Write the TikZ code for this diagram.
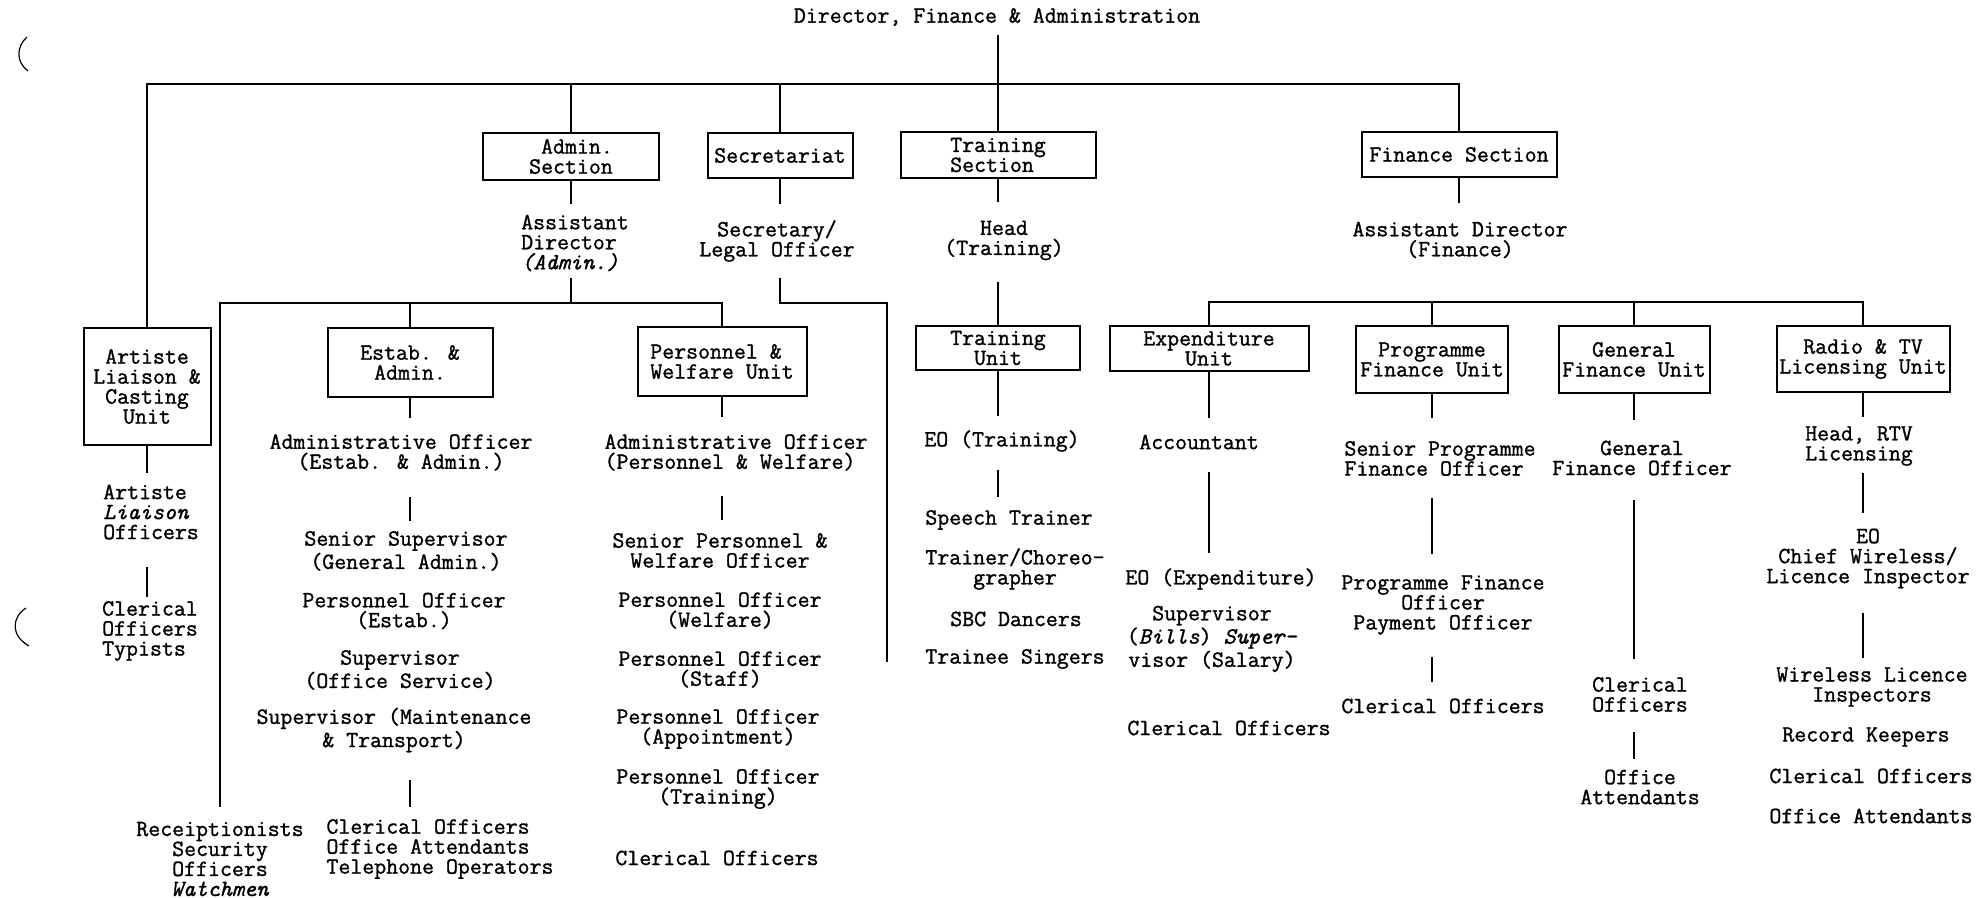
\documentclass[tikz,border=0pt]{standalone}
\usepackage{fontspec}
\newfontfamily\tw[FakeBold=1.2]{Latin Modern Mono}
\usetikzlibrary{calc}
\tikzset{
  every node/.style={font=\tw\fontsize{11.6pt}{10pt}\selectfont},
  unitbox/.style={draw, line width=1pt, inner sep=0pt, outer sep=0pt, align=center},
  lbl/.style={inner sep=0pt, outer sep=0pt, align=center},
  lbll/.style={inner sep=0pt, outer sep=0pt, align=left},
  conn/.style={line width=1pt},
}
\begin{document}
\begin{tikzpicture}[x=0.5pt,y=-0.5pt]
\fill[white] (0,0) rectangle (1983,898);
\useasboundingbox (0,0) rectangle (1983,898);

% scan marks
\draw[line width=0.6pt] (27,37) .. controls (16,47) and (16,62) .. (28,71);
\draw[line width=0.6pt] (26,608) .. controls (11,618) and (11,636) .. (29,646);

% ---------- top level ----------
\node[lbl] (title) at (997,17) {Director, Finance \& Administration};
\coordinate (j1) at (999,84);

\node[unitbox, align=right, minimum width=88pt, minimum height=23.5pt] (adminsec) at (571,156.5) {Admin.\\Section};
\node[unitbox, minimum width=72.5pt, minimum height=22.5pt] (secsec) at (780,155.5) {Secretariat};
\node[unitbox, align=left, minimum width=97.5pt, minimum height=23pt] (trsec) at (998,155) {Training\\Section};
\node[unitbox, minimum width=97.5pt, minimum height=22.5pt] (finsec) at (1459,154.5) {Finance Section};
\node[unitbox, minimum width=63.5pt, minimum height=58.5pt] (artbox) at (147,386.5) {Artiste\\Liaison \&\\Casting\\Unit};

% ---------- second level heads ----------
\node[lbll] (adadmin) at (575,243) {Assistant\\Director\\\textit{(Admin.)}};
\node[lbl] (secr) at (777,241) {Secretary/\\Legal Officer};
\node[lbl] (headtr) at (1004,240.5) {Head\\(Training)};
\node[lbl] (adfin) at (1460,240) {Assistant Director\\(Finance)};

\coordinate (j2) at (571,303);
\coordinate (secend) at (887,662);
\coordinate (fbar) at (1459,302);

% ---------- unit boxes ----------
\node[unitbox, minimum width=82.5pt, minimum height=34.5pt] (estab) at (410,362.5) {Estab. \&\\Admin.};
\node[unitbox, align=left, minimum width=84.5pt, minimum height=34.5pt] (pers) at (722,361.5) {Personnel \&\\Welfare Unit};
\node[unitbox, minimum width=82pt, minimum height=22pt] (trunit) at (998,348) {Training\\Unit};
\node[unitbox, minimum width=99.5pt, minimum height=22.5pt] (expunit) at (1209,348.5) {Expenditure\\Unit};
\node[unitbox, minimum width=76pt, minimum height=33.5pt] (prog) at (1432,359.5) {Programme\\Finance Unit};
\node[unitbox, minimum width=75.5pt, minimum height=33.5pt] (genu) at (1634,359.5) {General\\Finance Unit};
\node[unitbox, minimum width=86.5pt, minimum height=33pt] (radio) at (1863,359) {Radio \& TV\\Licensing Unit};

% ---------- Artiste column ----------
\node[lbll] (alo) at (151,512) {Artiste\\\textit{Liaison}\\Officers};
\node[lbll] (artcl) at (150,631) {Clerical\\Officers\\Typists};

% ---------- Estab column ----------
\node[lbl] (ao1) at (401,452.5) {Administrative Officer\\(Estab. \& Admin.)};
\node[lbl] (ss) at (406,551) {Senior Supervisor\\(General Admin.)};
\node[lbl] (poe) at (404,611) {Personnel Officer\\(Estab.)};
\node[lbl] (supos) at (400,670) {Supervisor\\(Office Service)};
\node[lbl] (supmt) at (394,730) {Supervisor (Maintenance\\\& Transport)};
\node[lbl] (recep) at (220,859) {Receiptionists\\Security\\Officers\\\textit{Watchmen}};
\node[lbll] (clo) at (440,849) {Clerical Officers\\Office Attendants\\Telephone Operators};

% ---------- Personnel column ----------
\node[lbll] (ao2) at (736,452.5) {Administrative Officer\\(Personnel \& Welfare)};
\node[lbl] (spw) at (720,550.5) {Senior Personnel \&\\Welfare Officer};
\node[lbl] (pow) at (720,610.5) {Personnel Officer\\(Welfare)};
\node[lbl] (pos) at (720,669.5) {Personnel Officer\\(Staff)};
\node[lbl] (poa) at (718,729) {Personnel Officer\\(Appointment)};
\node[lbl] (pot) at (718,789) {Personnel Officer\\(Training)};
\node[lbl] (pwcl) at (717,858) {Clerical Officers};

% ---------- Training column ----------
\node[lbl] (eotr) at (1002,441) {EO (Training)};
\node[lbl] (speech) at (1009,520) {Speech Trainer};
\node[lbl] (choreo) at (1015,569) {Trainer/Choreo-\\grapher};
\node[lbl] (sbc) at (1016,619) {SBC Dancers};
\node[lbl] (trainee) at (1015,659) {Trainee Singers};

% ---------- Expenditure column ----------
\node[lbl] (acct) at (1199,442) {Accountant};
\node[lbl] (eoexp) at (1221,579) {EO (Expenditure)};
\node[lbl] (supbills) at (1212,639) {Supervisor\\(\textit{Bills}) \textit{Super-}\\visor (Salary)};
\node[lbl] (expcl) at (1229,728) {Clerical Officers};

% ---------- Programme column ----------
\node[lbll] (spfo) at (1440,458.5) {Senior Programme\\Finance Officer};
\node[lbl] (pfo) at (1443,605) {Programme Finance\\Officer\\Payment Officer};
\node[lbl] (progcl) at (1443,706) {Clerical Officers};

% ---------- General column ----------
\node[lbl] (gfo) at (1642,458) {General\\Finance Officer};
\node[lbll] (gencl) at (1640,694.5) {Clerical\\Officers};
\node[lbl] (genoa) at (1640,787) {Office\\Attendants};

% ---------- Radio column ----------
\node[lbl] (headrtv) at (1859,446) {Head, RTV\\Licensing};
\node[lbl] (eochief) at (1868,558.5) {EO\\Chief Wireless/\\Licence Inspector};
\node[lbl] (wli) at (1872,687) {Wireless Licence\\Inspectors};
\node[lbl] (rk) at (1866,737) {Record Keepers};
\node[lbl] (rtvcl) at (1871,776) {Clerical Officers};
\node[lbl] (rtvoa) at (1871,816) {Office Attendants};

% ================= connectors =================
% top bar
\draw[conn] (artbox.north) -- (artbox.north |- j1) -- (finsec.north |- j1) -- (finsec.north);
\draw[conn] (adminsec.north) -- (adminsec.north |- j1);
\draw[conn] (secsec.north) -- (secsec.north |- j1);
\draw[conn, shorten <=4.5pt] (title.south -| trsec.north) -- (trsec.north);

% admin section
\draw[conn] (adminsec.south) -- ++(0,24);
\draw[conn] (adadmin.center -| adminsec.south) ++(0,35) -- (j2);
\draw[conn] (recep.center) ++(0,-52) -- (recep.center |- j2) -- (pers.north |- j2) -- (pers.north);
\draw[conn] (estab.north) -- (estab.north |- j2);

% secretariat
\draw[conn] (secsec.south) -- ++(0,26);
\draw[conn] (secr.center -| secsec.south) ++(0,37) -- (secsec.south |- j2) -- (secend |- j2) -- (secend);

% training
\draw[conn] (trsec.south) -- ++(0,24);
\draw[conn] (headtr.center -| trsec.south) ++(0,42) -- (trunit.north);
\draw[conn] (trunit.south) -- ++(0,46);
\draw[conn] (eotr.center -| trunit.south) ++(0,29) -- ++(0,27);

% finance
\draw[conn] (finsec.south) -- ++(0,26);
\draw[conn] (expunit.north) -- (expunit.north |- fbar) -- (radio.north |- fbar) -- (radio.north);
\draw[conn] (prog.north) -- (prog.north |- fbar);
\draw[conn] (genu.north) -- (genu.north |- fbar);

% artiste
\draw[conn] (artbox.south) -- ++(0,28);
\draw[conn] (alo.center -| artbox.south) ++(0,55) -- ++(0,30);

% estab
\draw[conn] (estab.south) -- ++(0,21);
\draw[conn] (ao1.center -| estab.south) ++(0,44.5) -- ++(0,24);
\draw[conn] (supmt.center -| estab.south) ++(0,50) -- ++(0,27);

% personnel
\draw[conn] (pers.south) -- ++(0,21);
\draw[conn] (ao2.center -| pers.south) ++(0,43.5) -- ++(0,24);

% expenditure
\draw[conn] (expunit.south) -- ++(0,47);
\draw[conn] (acct.center -| expunit.south) ++(0,30) -- ++(0,81);

% programme
\draw[conn] (prog.south) -- ++(0,25);
\draw[conn] (spfo.center -| prog.south) ++(0,40) -- ++(0,56);
\draw[conn] (pfo.center -| prog.south) ++(0,52) -- ++(0,25);

% general
\draw[conn] (genu.south) -- ++(0,27);
\draw[conn] (gfo.center -| genu.south) ++(0,42) -- ++(0,159);
\draw[conn] (gencl.center -| genu.south) ++(0,37.5) -- ++(0,27);

% radio
\draw[conn] (radio.south) -- ++(0,25);
\draw[conn] (headrtv.center -| radio.south) ++(0,27) -- ++(0,40);
\draw[conn] (eochief.center -| radio.south) ++(0,55) -- ++(0,45);
\end{tikzpicture}
\end{document}
